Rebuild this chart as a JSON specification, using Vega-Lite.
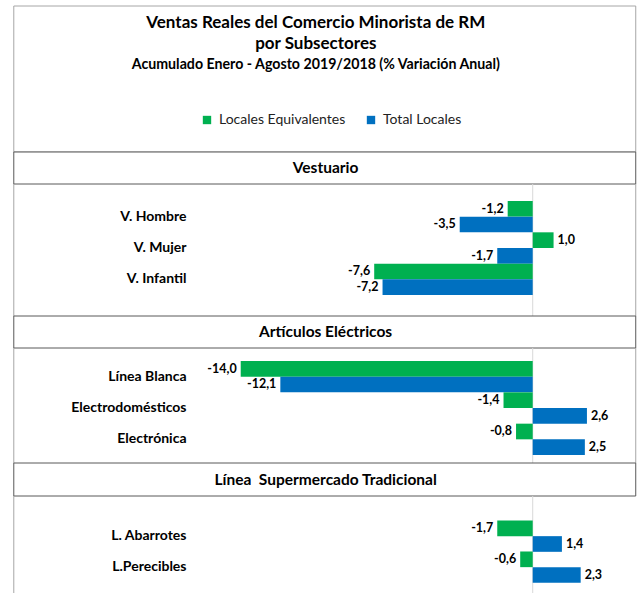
{
  "$schema": "https://vega.github.io/schema/vega-lite/v6.json",
  "padding": {"left": 13, "top": 5, "right": 2, "bottom": 0},
  "spacing": 0,
  "bounds": "flush",
  "config": {
    "view": {"stroke": null},
    "font": "Lato",
    "locale": {"number": {"decimal": ",", "thousands": ".", "grouping": [3], "currency": ["", ""], "minus": "-"}}
  },
  "datasets": {
    "ventas": [
      {"seccion": "Vestuario", "subsector": "V. Hombre", "serie": "Locales Equivalentes", "valor": -1.2},
      {"seccion": "Vestuario", "subsector": "V. Hombre", "serie": "Total Locales", "valor": -3.5},
      {"seccion": "Vestuario", "subsector": "V. Mujer", "serie": "Locales Equivalentes", "valor": 1.0},
      {"seccion": "Vestuario", "subsector": "V. Mujer", "serie": "Total Locales", "valor": -1.7},
      {"seccion": "Vestuario", "subsector": "V. Infantil", "serie": "Locales Equivalentes", "valor": -7.6},
      {"seccion": "Vestuario", "subsector": "V. Infantil", "serie": "Total Locales", "valor": -7.2},
      {"seccion": "Artículos Eléctricos", "subsector": "Línea Blanca", "serie": "Locales Equivalentes", "valor": -14.0},
      {"seccion": "Artículos Eléctricos", "subsector": "Línea Blanca", "serie": "Total Locales", "valor": -12.1},
      {"seccion": "Artículos Eléctricos", "subsector": "Electrodomésticos", "serie": "Locales Equivalentes", "valor": -1.4},
      {"seccion": "Artículos Eléctricos", "subsector": "Electrodomésticos", "serie": "Total Locales", "valor": 2.6},
      {"seccion": "Artículos Eléctricos", "subsector": "Electrónica", "serie": "Locales Equivalentes", "valor": -0.8},
      {"seccion": "Artículos Eléctricos", "subsector": "Electrónica", "serie": "Total Locales", "valor": 2.5},
      {"seccion": "Línea  Supermercado Tradicional", "subsector": "L. Abarrotes", "serie": "Locales Equivalentes", "valor": -1.7},
      {"seccion": "Línea  Supermercado Tradicional", "subsector": "L. Abarrotes", "serie": "Total Locales", "valor": 1.4},
      {"seccion": "Línea  Supermercado Tradicional", "subsector": "L.Perecibles", "serie": "Locales Equivalentes", "valor": -0.6},
      {"seccion": "Línea  Supermercado Tradicional", "subsector": "L.Perecibles", "serie": "Total Locales", "valor": 2.3}
    ],
    "uno": [{}]
  },
  "vconcat": [
    {
      "width": 438, "height": 146,
      "layer": [
        {"data": {"name": "uno"}, "mark": {"type": "rect", "fill": "transparent", "stroke": "#a6a6a6", "strokeWidth": 1},
         "encoding": {"x": {"datum": -24.88, "type": "quantitative", "scale": {"domain": [-16, 5], "nice": false, "zero": false}, "axis": null}, "x2": {"datum": 4.94}}},
        {"data": {"values": [{"linea": "1", "texto": "Ventas Reales del Comercio Minorista de RM"}, {"linea": "2", "texto": "por Subsectores"}]},
         "mark": {"type": "text", "fontWeight": "bold", "fontSize": 17, "color": "#000"},
         "encoding": {"x": {"datum": -10.4, "type": "quantitative"}, "y": {"field": "linea", "type": "ordinal", "scale": {"type": "point", "domain": ["1", "2", "3", "4", "5", "6", "7"], "padding": 0.476, "align": 0.85}, "axis": null}, "text": {"field": "texto"}}},
        {"data": {"values": [{"linea": "3", "texto": "Acumulado Enero - Agosto 2019/2018 (% Variación Anual)"}]},
         "mark": {"type": "text", "fontWeight": "bold", "fontSize": 14.2, "color": "#000"},
         "encoding": {"x": {"datum": -10.4, "type": "quantitative"}, "y": {"field": "linea", "type": "ordinal"}, "text": {"field": "texto"}}}
      ]
    },
    {
      "width": 438, "height": 32,
      "data": {"values": [{"titulo": "Vestuario"}]},
      "layer": [
        {"mark": {"type": "rect", "fill": "white", "stroke": "#595959", "strokeWidth": 1},
         "encoding": {"x": {"datum": -24.88, "type": "quantitative", "scale": {"domain": [-16, 5], "nice": false, "zero": false}, "axis": null}, "x2": {"datum": 4.94}}},
        {"mark": {"type": "text", "fontWeight": "bold", "fontSize": 15.5, "color": "#000"},
         "encoding": {"x": {"datum": -9.93, "type": "quantitative"}, "text": {"field": "titulo"}}}
      ]
    },
    {
      "width": 438, "height": 132,
      "layer": [
        {"data": {"name": "uno"}, "mark": {"type": "rule", "color": "#a6a6a6"}, "encoding": {"x": {"datum": -24.88, "type": "quantitative", "scale": {"domain": [-16, 5], "nice": false, "zero": false}, "axis": null}}},
        {"data": {"name": "uno"}, "mark": {"type": "rule", "color": "#a6a6a6"}, "encoding": {"x": {"datum": 4.94, "type": "quantitative"}}},
        {"data": {"name": "uno"}, "mark": {"type": "rule", "color": "#d9d9d9"}, "encoding": {"x": {"datum": 0, "type": "quantitative"}}},
        {"data": {"name": "ventas"}, "transform": [{"filter": "datum.seccion === 'Vestuario'"}],
         "mark": {"type": "bar"},
         "encoding": {
           "y": {"field": "subsector", "type": "nominal", "sort": null, "scale": {"paddingInner": 0, "paddingOuter": 0.6064, "align": 0.447},
                 "axis": {"title": null, "ticks": false, "domain": false, "labelFontWeight": "bold", "labelFontSize": 14, "labelColor": "#000", "labelPadding": 13, "labelFont": "Lato"}},
           "yOffset": {"field": "serie", "type": "nominal", "sort": ["Locales Equivalentes", "Total Locales"]},
           "x": {"field": "valor", "type": "quantitative"},
           "color": {"field": "serie", "type": "nominal", "scale": {"domain": ["Locales Equivalentes", "Total Locales"], "range": ["#00B050", "#0070C0"]},
                     "legend": {"title": null, "orient": "none", "legendX": 1, "legendY": 107, "direction": "horizontal", "symbolType": "square", "symbolSize": 70, "labelFontSize": 14, "labelFont": "Lato", "labelColor": "#222", "columnPadding": 18, "labelOffset": 5}}
         }},
        {"data": {"name": "ventas"}, "transform": [{"filter": "datum.seccion === 'Vestuario' && datum.valor < 0"}],
         "mark": {"type": "text", "align": "right", "dx": -4, "fontWeight": "bold", "fontSize": 12.5, "color": "#000"},
         "encoding": {"y": {"field": "subsector", "type": "nominal", "sort": null}, "yOffset": {"field": "serie", "type": "nominal", "sort": ["Locales Equivalentes", "Total Locales"]}, "x": {"field": "valor", "type": "quantitative"}, "text": {"field": "valor", "type": "quantitative", "format": ".1f"}}},
        {"data": {"name": "ventas"}, "transform": [{"filter": "datum.seccion === 'Vestuario' && datum.valor >= 0"}],
         "mark": {"type": "text", "align": "left", "dx": 4, "fontWeight": "bold", "fontSize": 12.5, "color": "#000"},
         "encoding": {"y": {"field": "subsector", "type": "nominal", "sort": null}, "yOffset": {"field": "serie", "type": "nominal", "sort": ["Locales Equivalentes", "Total Locales"]}, "x": {"field": "valor", "type": "quantitative"}, "text": {"field": "valor", "type": "quantitative", "format": ".1f"}}}
      ]
    },
    {
      "width": 438, "height": 32,
      "data": {"values": [{"titulo": "Artículos Eléctricos"}]},
      "layer": [
        {"mark": {"type": "rect", "fill": "white", "stroke": "#595959", "strokeWidth": 1},
         "encoding": {"x": {"datum": -24.88, "type": "quantitative", "scale": {"domain": [-16, 5], "nice": false, "zero": false}, "axis": null}, "x2": {"datum": 4.94}}},
        {"mark": {"type": "text", "fontWeight": "bold", "fontSize": 15.5, "color": "#000"},
         "encoding": {"x": {"datum": -9.93, "type": "quantitative"}, "text": {"field": "titulo"}}}
      ]
    },
    {
      "width": 438, "height": 115,
      "layer": [
        {"data": {"name": "uno"}, "mark": {"type": "rule", "color": "#a6a6a6"}, "encoding": {"x": {"datum": -24.88, "type": "quantitative", "scale": {"domain": [-16, 5], "nice": false, "zero": false}, "axis": null}}},
        {"data": {"name": "uno"}, "mark": {"type": "rule", "color": "#a6a6a6"}, "encoding": {"x": {"datum": 4.94, "type": "quantitative"}}},
        {"data": {"name": "uno"}, "mark": {"type": "rule", "color": "#d9d9d9"}, "encoding": {"x": {"datum": 0, "type": "quantitative"}}},
        {"data": {"name": "ventas"}, "transform": [{"filter": "datum.seccion === 'Artículos Eléctricos'"}],
         "mark": {"type": "bar"},
         "encoding": {
           "y": {"field": "subsector", "type": "nominal", "sort": null, "scale": {"paddingInner": 0, "paddingOuter": 0.335, "align": 0.619},
                 "axis": {"title": null, "ticks": false, "domain": false, "labelFontWeight": "bold", "labelFontSize": 14, "labelColor": "#000", "labelPadding": 13, "labelFont": "Lato"}},
           "yOffset": {"field": "serie", "type": "nominal", "sort": ["Locales Equivalentes", "Total Locales"]},
           "x": {"field": "valor", "type": "quantitative"},
           "color": {"field": "serie", "type": "nominal", "scale": {"domain": ["Locales Equivalentes", "Total Locales"], "range": ["#00B050", "#0070C0"]},
                     "legend": {"title": null, "orient": "none", "legendX": 1, "legendY": 107, "direction": "horizontal", "symbolType": "square", "symbolSize": 70, "labelFontSize": 14, "labelFont": "Lato", "labelColor": "#222", "columnPadding": 18, "labelOffset": 5}}
         }},
        {"data": {"name": "ventas"}, "transform": [{"filter": "datum.seccion === 'Artículos Eléctricos' && datum.valor < 0"}],
         "mark": {"type": "text", "align": "right", "dx": -4, "fontWeight": "bold", "fontSize": 12.5, "color": "#000"},
         "encoding": {"y": {"field": "subsector", "type": "nominal", "sort": null}, "yOffset": {"field": "serie", "type": "nominal", "sort": ["Locales Equivalentes", "Total Locales"]}, "x": {"field": "valor", "type": "quantitative"}, "text": {"field": "valor", "type": "quantitative", "format": ".1f"}}},
        {"data": {"name": "ventas"}, "transform": [{"filter": "datum.seccion === 'Artículos Eléctricos' && datum.valor >= 0"}],
         "mark": {"type": "text", "align": "left", "dx": 4, "fontWeight": "bold", "fontSize": 12.5, "color": "#000"},
         "encoding": {"y": {"field": "subsector", "type": "nominal", "sort": null}, "yOffset": {"field": "serie", "type": "nominal", "sort": ["Locales Equivalentes", "Total Locales"]}, "x": {"field": "valor", "type": "quantitative"}, "text": {"field": "valor", "type": "quantitative", "format": ".1f"}}}
      ]
    },
    {
      "width": 438, "height": 33,
      "data": {"values": [{"titulo": "Línea\u00a0 Supermercado Tradicional"}]},
      "layer": [
        {"mark": {"type": "rect", "fill": "white", "stroke": "#595959", "strokeWidth": 1},
         "encoding": {"x": {"datum": -24.88, "type": "quantitative", "scale": {"domain": [-16, 5], "nice": false, "zero": false}, "axis": null}, "x2": {"datum": 4.94}}},
        {"mark": {"type": "text", "fontWeight": "bold", "fontSize": 15.5, "color": "#000"},
         "encoding": {"x": {"datum": -9.93, "type": "quantitative"}, "text": {"field": "titulo"}}}
      ]
    },
    {
      "width": 438, "height": 98,
      "layer": [
        {"data": {"name": "uno"}, "mark": {"type": "rule", "color": "#a6a6a6"}, "encoding": {"x": {"datum": -24.88, "type": "quantitative", "scale": {"domain": [-16, 5], "nice": false, "zero": false}, "axis": null}}},
        {"data": {"name": "uno"}, "mark": {"type": "rule", "color": "#d9d9d9"}, "encoding": {"x": {"datum": 0, "type": "quantitative"}}},
        {"data": {"name": "ventas"}, "transform": [{"filter": "datum.seccion === 'Línea  Supermercado Tradicional'"}],
         "mark": {"type": "bar"},
         "encoding": {
           "y": {"field": "subsector", "type": "nominal", "sort": null, "scale": {"paddingInner": 0, "paddingOuter": 0.581, "align": 0.68},
                 "axis": {"title": null, "ticks": false, "domain": false, "labelFontWeight": "bold", "labelFontSize": 14, "labelColor": "#000", "labelPadding": 13, "labelFont": "Lato"}},
           "yOffset": {"field": "serie", "type": "nominal", "sort": ["Locales Equivalentes", "Total Locales"]},
           "x": {"field": "valor", "type": "quantitative"},
           "color": {"field": "serie", "type": "nominal", "scale": {"domain": ["Locales Equivalentes", "Total Locales"], "range": ["#00B050", "#0070C0"]},
                     "legend": {"title": null, "orient": "none", "legendX": 1, "legendY": 107, "direction": "horizontal", "symbolType": "square", "symbolSize": 70, "labelFontSize": 14, "labelFont": "Lato", "labelColor": "#222", "columnPadding": 18, "labelOffset": 5}}
         }},
        {"data": {"name": "ventas"}, "transform": [{"filter": "datum.seccion === 'Línea  Supermercado Tradicional' && datum.valor < 0"}],
         "mark": {"type": "text", "align": "right", "dx": -4, "fontWeight": "bold", "fontSize": 12.5, "color": "#000"},
         "encoding": {"y": {"field": "subsector", "type": "nominal", "sort": null}, "yOffset": {"field": "serie", "type": "nominal", "sort": ["Locales Equivalentes", "Total Locales"]}, "x": {"field": "valor", "type": "quantitative"}, "text": {"field": "valor", "type": "quantitative", "format": ".1f"}}},
        {"data": {"name": "ventas"}, "transform": [{"filter": "datum.seccion === 'Línea  Supermercado Tradicional' && datum.valor >= 0"}],
         "mark": {"type": "text", "align": "left", "dx": 4, "fontWeight": "bold", "fontSize": 12.5, "color": "#000"},
         "encoding": {"y": {"field": "subsector", "type": "nominal", "sort": null}, "yOffset": {"field": "serie", "type": "nominal", "sort": ["Locales Equivalentes", "Total Locales"]}, "x": {"field": "valor", "type": "quantitative"}, "text": {"field": "valor", "type": "quantitative", "format": ".1f"}}}
      ]
    }
  ]
}
